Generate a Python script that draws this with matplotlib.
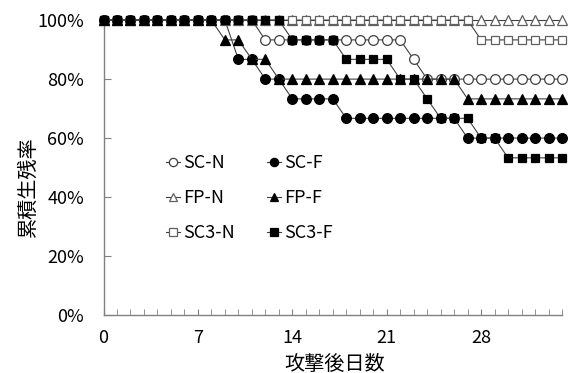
import matplotlib
matplotlib.use("Agg")
import matplotlib.pyplot as plt
from matplotlib.ticker import PercentFormatter, MultipleLocator

plt.rcParams['font.family'] = ['Noto Sans CJK JP', 'DejaVu Sans']

days = list(range(35))
x_tick_days = [0, 7, 14, 21, 28]
y_ticks = [0, 20, 40, 60, 80, 100]

# cumulative survival (%) per day after attack
sc_n = [100.0] * 12 + [93.3] * 11 + [86.7] + [80.0] * 11
sc_f = [100.0] * 10 + [86.7] * 2 + [80.0] * 2 + [73.3] * 4 + [66.7] * 9 + [60.0] * 8
fp_n = [100.0] * 35
fp_f = [100.0] * 9 + [93.3] * 2 + [86.7] * 2 + [80.0] * 14 + [73.3] * 8
sc3_n = [100.0] * 28 + [93.3] * 7
sc3_f = ([100.0] * 14 + [93.3] * 4 + [86.7] * 4 + [80.0] * 2 + [73.3]
         + [66.7] * 3 + [60.0] * 2 + [53.3] * 5)

series = [
    ("SC-N", sc_n, 'o', 'white', '#404040', 7.0),
    ("SC-F", sc_f, 'o', 'black', 'black', 7.0),
    ("FP-N", fp_n, '^', 'white', '#606060', 7.5),
    ("FP-F", fp_f, '^', 'black', 'black', 7.5),
    ("SC3-N", sc3_n, 's', 'white', '#606060', 6.0),
    ("SC3-F", sc3_f, 's', 'black', 'black', 6.0),
]

fig = plt.figure(figsize=(5.70, 3.73), dpi=100)
ax = fig.add_axes([0.1816, 0.1555, 0.8044, 0.7905])

handles = []
for i, (name, vals, mk, fc, ec, ms) in enumerate(series):
    h, = ax.plot(days, vals, color='#404040', lw=0.8, marker=mk, ms=ms,
                 mfc=fc, mec=ec, mew=0.9, label=name, clip_on=False,
                 zorder=3 + i)
    handles.append(h)

ax.set_xlim(0, 34)
ax.set_ylim(0, 100)
ax.set_xticks(x_tick_days)
ax.set_xticklabels([str(d) for d in x_tick_days])
ax.xaxis.set_minor_locator(MultipleLocator(1))
ax.set_yticks(y_ticks)
ax.yaxis.set_major_formatter(PercentFormatter(decimals=0))

for s in ['top', 'right']:
    ax.spines[s].set_visible(False)
for s in ['left', 'bottom']:
    ax.spines[s].set_color('#808080')
    ax.spines[s].set_linewidth(1.0)

ax.tick_params(axis='y', direction='in', length=5, color='#808080',
               labelsize=13, pad=14)
ax.tick_params(axis='x', which='major', direction='in', length=4,
               color='#808080', labelsize=13, pad=10)
ax.tick_params(axis='x', which='minor', direction='in', length=4,
               color='#808080')

ax.set_xlabel('攻撃後日数', fontsize=14.5)
ax.set_ylabel('累積生残率', fontsize=14.5)
ax.xaxis.set_label_coords(335 / 570, 1 - 364 / 373, transform=fig.transFigure)
ax.xaxis.label.set_va('center')
ax.yaxis.set_label_coords(28 / 570, 0.5, transform=fig.transFigure)
ax.yaxis.label.set_va('center')

# legend laid out row by row: N / F pairs side by side
order = [0, 2, 4, 1, 3, 5]
ax.legend([handles[k] for k in order], [series[k][0] for k in order],
          ncol=2, loc='upper left', frameon=False,
          bbox_to_anchor=(166 / 570, 1 - 154 / 373),
          bbox_transform=fig.transFigure, fontsize=13,
          handlelength=0.8, handletextpad=0.15, columnspacing=1.75,
          labelspacing=0.95, markerscale=0.85, borderaxespad=0, borderpad=0)

fig.savefig('out.png', dpi=100)
